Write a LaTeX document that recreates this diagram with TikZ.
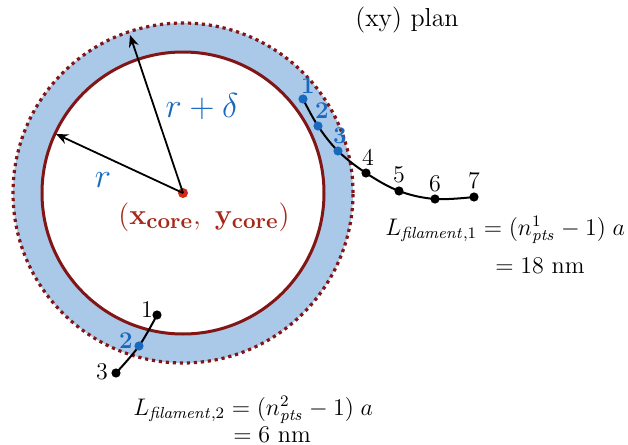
\documentclass[tikz,border=0pt]{standalone}
\usetikzlibrary{arrows.meta}
\definecolor{bandblue}{RGB}{170,200,232}
\definecolor{darkred}{RGB}{130,22,22}
\definecolor{coreRed}{RGB}{205,45,25}
\definecolor{coreText}{RGB}{165,40,25}
\definecolor{ptblue}{RGB}{25,105,190}
\begin{document}
\begin{tikzpicture}[x=0.5pt,y=-0.5pt,
 dot/.style={circle,fill=black,inner sep=0pt,minimum size=4.6pt},
 bdot/.style={dot,fill=ptblue},
 num/.style={font=\fontsize{12}{14}\selectfont,inner sep=0pt},
 bnum/.style={font=\fontsize{12}{14}\selectfont\bfseries,text=ptblue,inner sep=0pt},
 fil/.style={line width=1pt},
 rad/.style={line width=0.9pt,-{Stealth[length=6pt,width=5pt]}},
 eq/.style={font=\fontsize{12.1}{15}\selectfont,anchor=base west,inner sep=0pt}]
\useasboundingbox (0,0) rectangle (628,445);
\coordinate (c) at (183,193);
\fill[bandblue,even odd rule] (c) circle[radius=85pt] (c) circle[radius=70.5pt];
\draw[darkred,line width=1.5pt] (c) circle[radius=70.5pt];
\draw[darkred,line width=1.6pt,dash pattern=on 1.6pt off 1.9pt] (c) circle[radius=85pt];
\node[circle,fill=coreRed,inner sep=0pt,minimum size=5pt] (core) at (c) {};
\coordinate (rtip) at (56,134);
\coordinate (dtip) at (130,35);
\draw[rad] (core.center) -- (rtip);
\draw[rad] (core.center) -- (dtip);
\node[text=ptblue,font=\fontsize{16}{18}\selectfont] (lrd) at (202,107) {$r+\delta$};
\node[text=ptblue,font=\fontsize{16}{18}\selectfont] (lr) at (103,180) {$r$};
\node[text=coreText,font=\fontsize{15}{18}\selectfont] (lcore) at (204,217) {$\mathbf{(x_{core},\ y_{core})}$};
\node[font=\fontsize{13}{15}\selectfont] (title) at (407,20) {(xy) plan};
% filament 1
\coordinate (a1) at (303,99);
\coordinate (a2) at (318,126);
\coordinate (a3) at (338,151);
\coordinate (a4) at (366,173);
\coordinate (a5) at (399,191);
\coordinate (a6) at (435,199);
\coordinate (a7) at (474,197);
\draw[fil] plot[smooth,tension=0.6] coordinates {(a1) (a2) (a3) (a4) (a5) (a6) (a7)};
\node[bdot] (d1) at (a1) {};
\node[bdot] (d2) at (a2) {};
\node[bdot] (d3) at (a3) {};
\node[dot] (d4) at (a4) {};
\node[dot] (d5) at (a5) {};
\node[dot] (d6) at (a6) {};
\node[dot] (d7) at (a7) {};
\node[bnum] (n1) at (308,86) {1};
\node[bnum] (n2) at (322,111) {2};
\node[bnum] (n3) at (340,136) {3};
\node[num] (n4) at (368,157) {4};
\node[num] (n5) at (399,175) {5};
\node[num] (n6) at (435,184) {6};
\node[num] (n7) at (474,181) {7};
% filament 2
\coordinate (b1) at (157,315);
\coordinate (b2) at (139,346);
\coordinate (b3) at (116,373);
\draw[fil] plot[smooth,tension=0.6] coordinates {(b1) (b2) (b3)};
\node[dot] (e1) at (b1) {};
\node[bdot] (e2) at (b2) {};
\node[dot] (e3) at (b3) {};
\node[num] (m1) at (147,310) {1};
\node[bnum] (m2) at (126,341) {2};
\node[num] (m3) at (102,372) {3};
% equations
\node[eq] (eq1) at (385,235) {$L_{\mathit{filament},1} = (n^1_{\mathit{pts}} - 1)\;a$};
\node[eq] (eq1b) at (495,273) {$=18$ nm};
\node[eq] (eq2) at (133,415) {$L_{\mathit{filament},2} = (n^2_{\mathit{pts}} - 1)\;a$};
\node[eq] (eq2b) at (233,442) {$=6$ nm};
\end{tikzpicture}
\end{document}
